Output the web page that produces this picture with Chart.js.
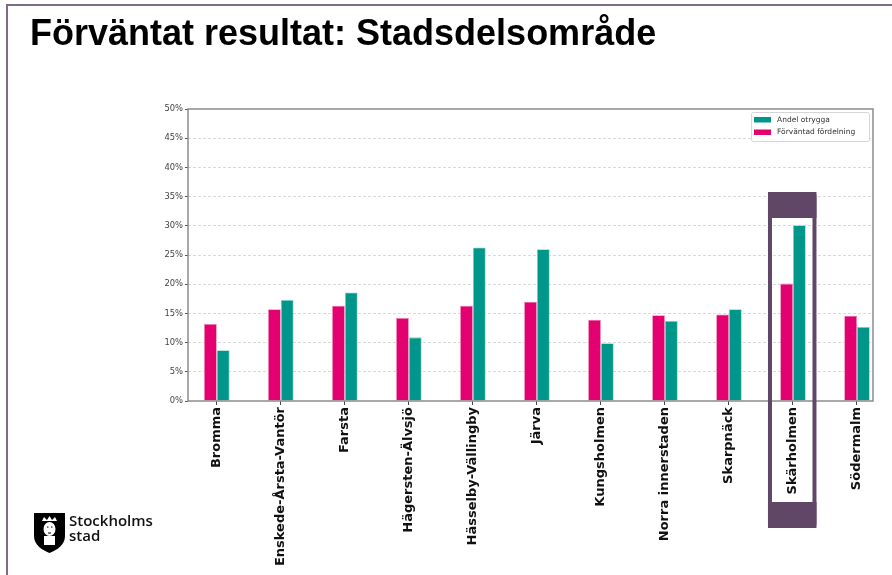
<!DOCTYPE html>
<html>
<head>
<meta charset="utf-8">
<script src="https://cdn.jsdelivr.net/npm/chart.js@4.4.0/dist/chart.umd.min.js"></script>
<style>
  html, body { margin: 0; padding: 0; background: #fff; }
  #slide { position: relative; width: 892px; height: 575px; overflow: hidden; background: #fff; }
  #frame { position: absolute; left: 6px; top: 4px; width: 900px; height: 600px; border-left: 2px solid #7d6b8c; border-top: 2px solid #7d6b8c; }
  #title { position: absolute; left: 30px; top: 12px; font-family: "Liberation Sans", Arial, sans-serif; font-weight: bold; font-size: 36px; color: #000; white-space: nowrap; }
  #chartWrap { position: absolute; left: 0; top: 0; width: 892px; height: 575px; }
  #logo { position: absolute; left: 33px; top: 512px; }
  #logoText { position: absolute; left: 69px; top: 513px; font-family: "Open Sans", sans-serif; font-weight: 600; font-size: 15px; line-height: 15px; color: #111; }
</style>
</head>
<body>
<div id="slide">
  <div id="frame"></div>
  <div id="chartWrap"><canvas id="stadsdelChart" width="892" height="575"></canvas></div>
  <div id="title">Förväntat resultat: Stadsdelsområde</div>
  <svg id="logo" width="33" height="42" viewBox="0 0 33 42">
    <path d="M1 1 H32 V24 C32 33 24 38 16.5 41 C9 38 1 33 1 24 Z" fill="#000"/>
    <path d="M9 9 L11 5 L14 8 L16.5 4 L19 8 L22 5 L24 9 Z" fill="#fff"/>
    <ellipse cx="16.5" cy="17" rx="6" ry="7" fill="#fff"/>
    <rect x="11" y="24" width="11" height="9" fill="#fff"/>
    <path d="M14 15 h1.5 M18 15 h1.5 M15 21 h3" stroke="#000" stroke-width="1"/>
  </svg>
  <div id="logoText">Stockholms<br>stad</div>
</div>
<script>
const categories = ['Bromma', 'Enskede-Årsta-Vantör', 'Farsta', 'Hägersten-Älvsjö', 'Hässelby-Vällingby',
    'Järva', 'Kungsholmen', 'Norra innerstaden', 'Skarpnäck', 'Skärholmen', 'Södermalm'];
const forvantad = [13.2, 15.7, 16.3, 14.2, 16.3, 17.0, 13.9, 14.7, 14.8, 20.1, 14.6];
const andelOtrygga = [8.7, 17.3, 18.6, 10.9, 26.3, 26.0, 9.9, 13.7, 15.7, 30.1, 12.7];
const yTicks = [0, 5, 10, 15, 20, 25, 30, 35, 40, 45, 50];
const highlighted = 'Skärholmen';

const pink = '#e3006f';
const teal = '#00968a';

// spines, legend box and highlight frame
const extras = {
    id: 'extras',
    afterDatasetsDraw(chart) {
        const { ctx, chartArea: a } = chart;
        ctx.save();
        ctx.strokeStyle = '#8c8c8c';
        ctx.lineWidth = 1.5;
        ctx.strokeRect(a.left, a.top, a.right - a.left, a.bottom - a.top);

        // legend
        const lx = 751, ly = 112, lw = 118, lh = 29;
        ctx.fillStyle = 'rgba(255,255,255,0.9)';
        ctx.strokeStyle = '#d6d6d6';
        ctx.lineWidth = 1;
        ctx.beginPath();
        ctx.roundRect(lx + 0.5, ly + 0.5, lw, lh, 2);
        ctx.fill();
        ctx.stroke();
        const items = [chart.data.datasets[1], chart.data.datasets[0]];
        ctx.font = '7.5px "DejaVu Sans"';
        ctx.textBaseline = 'middle';
        items.forEach((ds, i) => {
            const cy = ly + 7.5 + i * 12.5;
            ctx.fillStyle = ds.backgroundColor;
            ctx.fillRect(lx + 3, cy - 2.5, 17, 5.5);
            ctx.fillStyle = '#333';
            ctx.fillText(ds.label, lx + 26, cy + 0.5);
        });
        ctx.restore();
    },
    afterDraw(chart) {
        const { ctx } = chart;
        const x = chart.scales.x.getPixelForValue(categories.indexOf(highlighted));
        const left = x - 25, right = x + 23.5, top = 192, bottom = 528;
        ctx.save();
        ctx.fillStyle = '#614767';
        ctx.beginPath();
        ctx.roundRect(left, top, right - left, 26, [4, 4, 0, 0]);
        ctx.fill();
        ctx.beginPath();
        ctx.roundRect(left, bottom - 26, right - left, 26, [0, 0, 4, 4]);
        ctx.fill();
        ctx.fillRect(left, top, 4, bottom - top);
        ctx.fillRect(right - 4, top, 4, bottom - top);
        ctx.restore();
    }
};

document.addEventListener('DOMContentLoaded', () => {
    const ctx = document.getElementById('stadsdelChart').getContext('2d');

    new Chart(ctx, {
        type: 'bar',
        data: {
            datasets: [
                {
                    label: 'Förväntad fördelning',
                    data: forvantad.map((v, i) => ({ x: i, y: v })),
                    backgroundColor: pink,
                    borderColor: '#f27fb3',
                    borderWidth: 0.8
                },
                {
                    label: 'Andel otrygga',
                    data: andelOtrygga.map((v, i) => ({ x: i, y: v })),
                    backgroundColor: teal,
                    borderColor: '#7fd3cb',
                    borderWidth: 0.8
                }
            ]
        },
        options: {
            responsive: false,
            animation: false,
            events: [],
            categoryPercentage: 0.4,
            barPercentage: 1,
            layout: { padding: { left: 148, top: 109, right: 19, bottom: 0 } },
            plugins: { legend: false, tooltip: { enabled: false } },
            scales: {
                x: {
                    type: 'linear',
                    offset: false,
                    min: -0.45,
                    max: 10.25,
                    afterBuildTicks: s => { s.ticks = categories.map((_, i) => ({ value: i })); },
                    afterFit: s => { s.height = 174; },
                    border: { display: false },
                    grid: { offset: false, drawOnChartArea: false, tickLength: 4, tickColor: '#444', tickWidth: 1 },
                    ticks: {
                        autoSkip: false,
                        minRotation: 90,
                        maxRotation: 90,
                        padding: 2,
                        color: '#111',
                        font: { family: 'DejaVu Sans', weight: 'bold', size: 13 },
                        callback: v => categories[v]
                    }
                },
                y: {
                    min: 0,
                    max: 50,
                    afterBuildTicks: s => { s.ticks = yTicks.map(v => ({ value: v })); },
                    afterFit: s => { s.width = 40; },
                    border: { display: false, dash: [3, 2] },
                    grid: {
                        color: c => (c.tick.value === 0 || c.tick.value === 50) ? 'rgba(0,0,0,0)' : '#cfcfcf',
                        lineWidth: 0.8,
                        tickLength: 3,
                        tickColor: '#555',
                        tickBorderDash: [],
                        tickWidth: 1
                    },
                    ticks: {
                        padding: 2,
                        color: '#444',
                        font: { family: 'DejaVu Sans', size: 8.4 },
                        callback: v => v + '%'
                    }
                }
            }
        },
        plugins: [extras]
    });
});
</script>
</body>
</html>
